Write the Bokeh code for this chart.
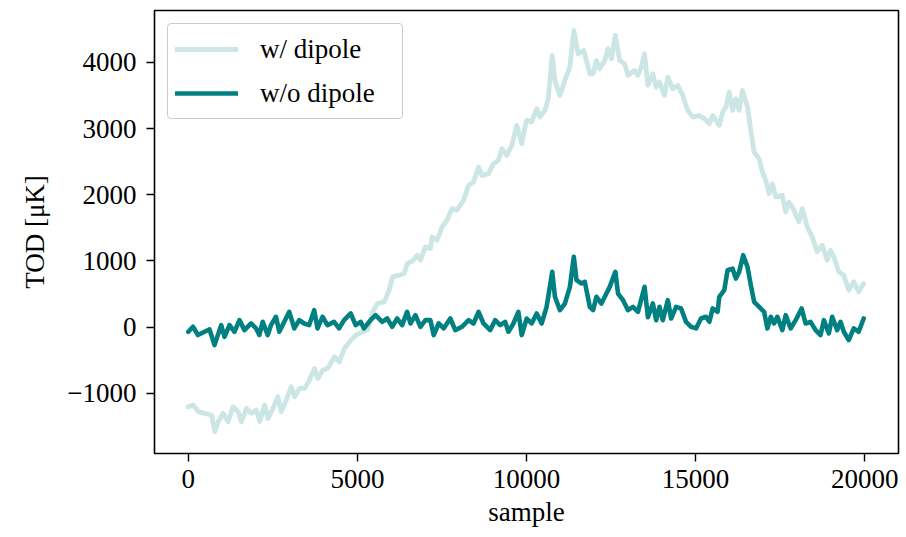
from bokeh.plotting import figure
from bokeh.models import Range1d, Legend, LegendItem, FixedTicker
from bokeh.embed import file_html
from bokeh.resources import INLINE

# ---- data ----
with_x = [0, 147, 295, 491, 687, 785, 884, 1031, 1178, 1325, 1473, 1571, 1718, 1865, 2012, 2110,
          2258, 2356, 2503, 2650, 2749, 2896, 3043, 3141, 3289, 3436, 3583, 3731, 3829, 3976, 4123,
          4320, 4467, 4614, 4811, 4958, 5154, 5301, 5449, 5596, 5792, 5940, 6038, 6234, 6381, 6480,
          6627, 6774, 6863, 7010, 7158, 7207, 7354, 7502, 7649, 7796, 7944, 8140, 8287, 8434, 8582,
          8680, 8877, 9024, 9171, 9270, 9417, 9564, 9712, 9859, 9957, 10005, 10152, 10300, 10398,
          10545, 10643, 10761, 10840, 10987, 11134, 11281, 11399, 11527, 11694, 11871, 11969, 12067,
          12165, 12313, 12411, 12509, 12627, 12754, 12901, 13000, 13196, 13294, 13393, 13491, 13589,
          13736, 13834, 13933, 14080, 14178, 14326, 14473, 14620, 14768, 14915, 15111, 15259, 15406,
          15504, 15701, 15799, 15897, 15995, 16093, 16191, 16289, 16387, 16535, 16633, 16731, 16878,
          16976, 17075, 17172, 17271, 17369, 17564, 17664, 17762, 17909, 18056, 18155, 18302, 18449,
          18596, 18744, 18891, 18989, 19088, 19234, 19382, 19529, 19677, 19823, 19971]
with_dipole = [-1203, -1177, -1278, -1303, -1328, -1580, -1429, -1303, -1429, -1203, -1278, -1429,
               -1228, -1303, -1253, -1429, -1177, -1379, -1228, -1052, -1278, -1102, -901, -1052,
               -926, -926, -800, -624, -775, -649, -624, -448, -523, -322, -196, -120, -70, -45, 231,
               357, 382, 558, 760, 785, 810, 960, 1000, 1087, 1011, 1213, 1187, 1364, 1313, 1514,
               1615, 1791, 1766, 1917, 2143, 2193, 2420, 2294, 2319, 2470, 2520, 2697, 2596, 2747,
               3049, 2772, 3023, 3125, 3100, 3300, 3175, 3275, 3451, 4106, 3728, 3502, 3728, 3929,
               4483, 4131, 4181, 3829, 3829, 4030, 3904, 4030, 4206, 4055, 4408, 4030, 3978, 3804,
               3879, 3804, 3929, 4131, 3653, 3829, 3628, 3703, 3502, 3778, 3602, 3653, 3502, 3275,
               3175, 3200, 3150, 3074, 3200, 3049, 3250, 3325, 3552, 3275, 3451, 3275, 3577, 3325,
               2974, 2646, 2545, 2344, 2219, 2018, 2168, 1967, 1992, 1740, 1891, 1766, 1590, 1791,
               1514, 1363, 1137, 1237, 1011, 1162, 1062, 835, 785, 558, 684, 533, 659]

without_x = [0, 138, 285, 480, 628, 775, 972, 1070, 1217, 1365, 1512, 1660, 1856, 2003, 2101, 2199,
             2347, 2445, 2592, 2690, 2838, 2985, 3133, 3280, 3428, 3575, 3722, 3820, 3968, 4115, 4310,
             4458, 4605, 4801, 4948, 5096, 5194, 5390, 5538, 5734, 5881, 6028, 6176, 6323, 6470, 6568,
             6716, 6863, 7010, 7158, 7256, 7403, 7551, 7747, 7894, 8091, 8287, 8434, 8582, 8729, 8925,
             9073, 9220, 9368, 9466, 9613, 9760, 9859, 10006, 10153, 10301, 10448, 10595, 10761, 10841,
             10988, 11135, 11283, 11399, 11479, 11626, 11724, 11872, 11970, 12068, 12215, 12363, 12461,
             12627, 12706, 12854, 13001, 13148, 13296, 13491, 13590, 13736, 13834, 13933, 14031, 14178,
             14277, 14424, 14571, 14718, 14866, 15013, 15160, 15308, 15406, 15504, 15651, 15701, 15848,
             15946, 16093, 16191, 16289, 16407, 16535, 16633, 16731, 16879, 17026, 17124, 17222, 17320,
             17418, 17566, 17664, 17811, 17959, 18135, 18253, 18401, 18548, 18695, 18793, 18941, 19039,
             19186, 19285, 19383, 19529, 19677, 19823, 19971]
without_dipole = [-70, 5, -120, -70, -35, -272, 30, -146, 30, -70, 106, -45, 55, -20, -120, 80, -120,
                  30, 156, -70, 80, 231, -20, 106, 55, 30, 257, -20, 156, 30, 80, -20, 106, 206, 30,
                  80, -20, 106, 180, 80, 130, 5, 130, 30, 231, 55, 181, 5, 105, 105, -120, 55, -20,
                  130, -45, 5, 105, 55, 231, 55, -45, 105, 30, 80, -70, 55, 231, -120, 130, 55, 206,
                  55, 307, 835, 458, 256, 356, 608, 1062, 709, 659, 684, 307, 256, 458, 356, 508, 608,
                  835, 508, 407, 256, 307, 231, 609, 150, 357, 105, 307, 105, 407, 130, 307, 281, 80,
                  5, -20, 130, 156, 80, 282, 231, 458, 558, 860, 885, 734, 835, 1087, 910, 634, 382,
                  307, 231, -20, 156, 55, 156, -45, 181, -20, 105, 282, 55, 80, -45, -120, 105, -95,
                  156, -45, 80, -70, -196, -20, -70, 131]

x_ticks = [0, 5000, 10000, 15000, 20000]
y_ticks = [-1000, 0, 1000, 2000, 3000, 4000]
labels = ["w/ dipole", "w/o dipole"]

FONT = "Liberation Serif"
TEAL = "#008080"
LIGHT = "#cce6e6"

p = figure(width=906, height=537, output_backend="svg", toolbar_location=None,
           x_range=Range1d(-1000, 21000), y_range=Range1d(-1910, 4785),
           min_border_left=154, min_border_right=8, min_border_top=10, min_border_bottom=84)

r1 = p.line(with_x, with_dipole, line_color=LIGHT, line_width=4.8,
            line_join="round", line_cap="round")
r2 = p.line(without_x, without_dipole, line_color=TEAL, line_width=4.6,
            line_join="round", line_cap="round")

p.xgrid.visible = False
p.ygrid.visible = False
p.outline_line_color = "black"
p.outline_line_width = 1.6
p.outline_line_alpha = 1.0

p.xaxis.ticker = FixedTicker(ticks=x_ticks)
p.yaxis.ticker = FixedTicker(ticks=y_ticks)
p.yaxis.major_label_overrides = {t: ("\u2212" + str(-t) if t < 0 else str(t)) for t in y_ticks}

for ax in (p.xaxis[0], p.yaxis[0]):
    ax.axis_line_color = None
    ax.major_tick_in = 0
    ax.major_tick_out = 8
    ax.major_tick_line_width = 1.4
    ax.major_tick_line_color = "black"
    ax.minor_tick_line_color = None
    ax.major_label_text_font = FONT
    ax.major_label_text_font_size = "27px"
    ax.major_label_text_color = "black"
    ax.axis_label_text_font = FONT
    ax.axis_label_text_font_size = "27px"
    ax.axis_label_text_font_style = "normal"
    ax.axis_label_text_color = "black"

p.xaxis.axis_label = "sample"
p.yaxis.axis_label = "TOD [\u03bcK]"
p.xaxis.major_label_standoff = 8
p.yaxis.major_label_standoff = 10
p.xaxis.axis_label_standoff = 6
p.yaxis.axis_label_standoff = 14

legend = Legend(items=[LegendItem(label=labels[0], renderers=[r1]),
                       LegendItem(label=labels[1], renderers=[r2])],
                location="top_left", margin=13, padding=7, spacing=8,
                glyph_width=63, glyph_height=36, label_standoff=22, label_width=135,
                label_text_font=FONT, label_text_font_size="27px", label_text_color="black",
                border_line_color="#cccccc", border_line_width=1.5, border_line_alpha=1.0,
                background_fill_color="white", background_fill_alpha=0.85)
if hasattr(legend, "border_radius"):
    legend.border_radius = 4
p.add_layout(legend)

open("out.html", "w").write(file_html(p, INLINE))
